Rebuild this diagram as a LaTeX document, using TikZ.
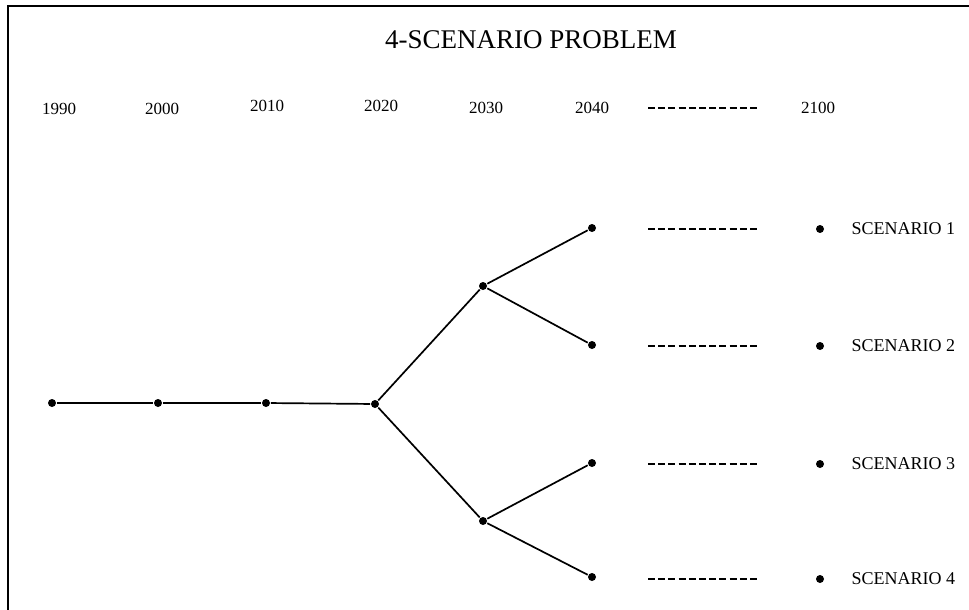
\documentclass[tikz,border=0pt]{standalone}
\usepackage{fontspec}
\setmainfont{Liberation Serif}
\usetikzlibrary{positioning}

\begin{document}
\begin{tikzpicture}[x=1pt, y=-1pt, line width=1.7pt,
	dt/.style={circle,fill,inner sep=0pt,minimum size=8pt},
	yr/.style={font=\fontsize{17}{19}\selectfont},
	scn/.style={font=\fontsize{18}{20}\selectfont,inner sep=0pt},
	dsh/.style={dash pattern=on 7pt off 3.2pt,line width=1.8pt}]
\useasboundingbox (0,0) rectangle (969,610);
\draw[line width=1.8pt] (8,610) -- (8,6) -- (969,6);
\node[font=\fontsize{27}{30}\selectfont] (t) at (531,40) {4-SCENARIO PROBLEM};
% years
\node[yr] (y0) at (59,109) {1990};
\node[yr] (y1) at (162,109) {2000};
\node[yr] (y2) at (267,106) {2010};
\node[yr] (y3) at (381,106) {2020};
\node[yr] (y4) at (486,108) {2030};
\node[yr] (y5) at (592,108) {2040};
\node[yr] (y6) at (818,108) {2100};
\coordinate (d0a) at (648,108);
\coordinate (d0b) at (760,108);
\draw[dsh] (d0a) -- (d0b);
% tree
\node[dt] (0) at (52,403) {};
\node[dt] (1) at (158,403) {};
\node[dt] (2) at (266,403) {};
\node[dt] (3) at (375,404) {};
\node[dt] (4) at (483,286) {};
\node[dt] (5) at (483,521) {};
\node[dt] (6) at (592,228) {};
\node[dt] (7) at (592,345) {};
\node[dt] (8) at (592,463) {};
\node[dt] (9) at (592,577) {};
\draw (0) to (1);
\draw (1) to (2);
\draw (2) to (3);
\draw (3) to (4);
\draw (3) to (5);
\draw (4) to (6);
\draw (4) to (7);
\draw (5) to (8);
\draw (5) to (9);
% scenarios
\foreach \n/\yy in {1/229,2/346,3/464,4/579}{
  \coordinate (d\n a) at (648,\yy);
  \coordinate (d\n b) at (760,\yy);
  \draw[dsh] (d\n a) -- (d\n b);
  \node[dt] (s\n) at (820,\yy) {};
  \node[scn,right=26pt of s\n] (l\n) {SCENARIO \n};
}
\end{tikzpicture}
\end{document}
